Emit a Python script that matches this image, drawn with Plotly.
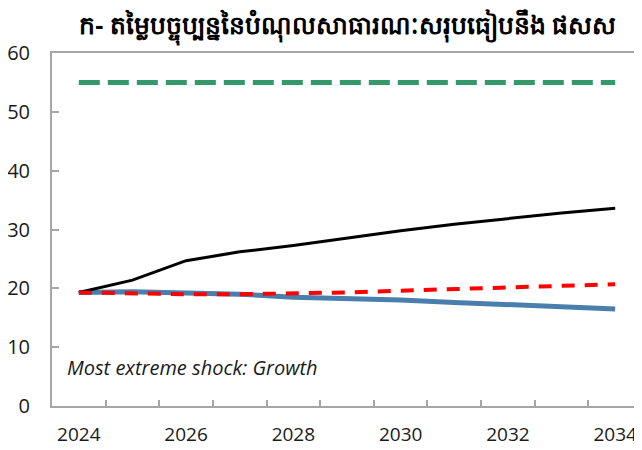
import plotly.graph_objects as go

years = list(range(2024, 2035))
threshold = [55] * 11
baseline = [19.3, 19.4, 19.2, 19.0, 18.5, 18.3, 18.0, 17.6, 17.3, 16.9, 16.5]
extreme_shock = [19.3, 21.4, 24.7, 26.2, 27.3, 28.6, 29.8, 30.9, 31.9, 32.8, 33.6]
historical = [19.3, 19.1, 19.0, 19.0, 19.1, 19.3, 19.6, 19.9, 20.1, 20.4, 20.7]

title_text = "ក- តម្លៃបច្ចុប្បន្ននៃបំណុលសាធារណៈសរុបធៀបនឹង ផសស"
note_text = "Most extreme shock: Growth"
font_family = "Open Sans, Noto Sans, DejaVu Sans, sans-serif"
grey = "#A6A6A6"

fig = go.Figure()
fig.add_trace(go.Scatter(x=years, y=baseline, mode="lines",
                         line=dict(color="#4A7FAD", width=5), name="Baseline"))
fig.add_trace(go.Scatter(x=years, y=extreme_shock, mode="lines",
                         line=dict(color="#000000", width=3), name="Most extreme shock"))
fig.add_trace(go.Scatter(x=years, y=historical, mode="lines",
                         line=dict(color="#FF0000", width=4, dash="13px,10px"), name="Historical"))
fig.add_trace(go.Scatter(x=years, y=threshold, mode="lines",
                         line=dict(color="#33996A", width=5, dash="21px,8px"), name="Threshold"))

fig.add_annotation(x=2023.74, y=6.5, xref="x", yref="y", text="<i>" + note_text + "</i>",
                   showarrow=False, xanchor="left", yanchor="middle",
                   font=dict(family=font_family, size=20, color="#1a1a1a"))

# page has an 8px body offset, so the figure is sized to fill what remains
fig.update_layout(
    width=634, height=442,
    margin=dict(l=44, r=0, t=45, b=44, autoexpand=False),
    paper_bgcolor="white", plot_bgcolor="white",
    showlegend=False,
    title=dict(text="<b>" + title_text + "</b>", x=0.536, xanchor="center", y=0.962, yanchor="middle",
               font=dict(family=font_family, size=25, color="#000000")),
    font=dict(family=font_family, size=19, color="#1a1a1a"),
)
fig.update_xaxes(range=[2023.5, 2034.5], tickvals=[2024, 2026, 2028, 2030, 2032, 2034],
                 ticks="inside", ticklen=0, showgrid=False, zeroline=False, automargin=False,
                 showline=True, linecolor=grey, linewidth=2, mirror=True,
                 minor=dict(ticks="inside", tick0=2023.5, dtick=1, ticklen=6, tickwidth=2,
                            tickcolor=grey, showgrid=False),
                 tickfont=dict(size=19), ticklabelstandoff=10)
fig.update_yaxes(range=[0, 60], dtick=10, ticks="inside", ticklen=7, tickwidth=2, tickcolor=grey,
                 showgrid=False, zeroline=False, showline=True, linecolor=grey, linewidth=2,
                 automargin=False, tickfont=dict(size=20), ticklabelstandoff=16)

fig.write_html("out.html")
